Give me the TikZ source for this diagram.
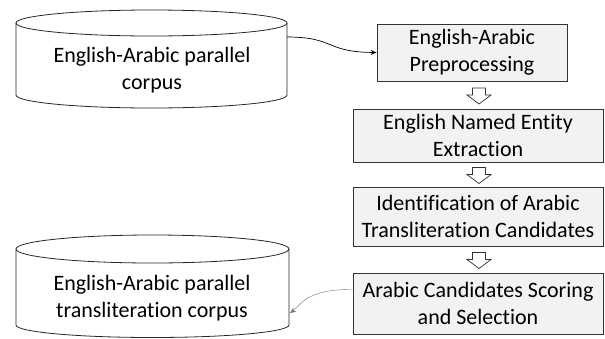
\documentclass[tikz,border=0pt]{standalone}
\usepackage{fontspec}
\setmainfont{Carlito}[Ligatures=NoCommon]
\usetikzlibrary{arrows.meta,calc}

\begin{document}
\begin{tikzpicture}[
    x=1pt, y=1pt,
  stagebox/.style={rectangle, draw=black!80, fill=black!5, line width=.8pt, align=center, inner sep=2pt,
    font=\fontsize{22}{27}\selectfont},
  corpustext/.style={align=center, font=\fontsize{22}{27}\selectfont},
  drum/.style={draw=black!85, line width=.8pt},
  flowarrow/.style={-{Stealth[length=6pt,width=5pt]}, line width=.7pt},
  thinarrow/.style={-{Stealth[length=6pt,width=5pt]}, draw=black!55, line width=.4pt}
]
\useasboundingbox (0,0) rectangle (605,-338);

% Corpora (cylinders)
\draw[drum] (151.5,-23) ellipse [x radius=135.5, y radius=13];
\draw[drum] (16,-23) -- (16,-95) arc [start angle=180, end angle=360, x radius=135.5, y radius=13] -- (287,-23);
\node[corpustext] (src) at (152,-70) {English-Arabic parallel\\corpus};
\coordinate (srcout) at (287,-37);

\draw[drum] (152.5,-249) ellipse [x radius=136.5, y radius=14];
\draw[drum] (16,-249) -- (16,-325) arc [start angle=180, end angle=360, x radius=136.5, y radius=12.5] -- (289,-249);
\node[corpustext] (dst) at (152,-298) {English-Arabic parallel\\transliteration corpus};
\coordinate (dstin) at (290,-313);

% Processing stages
\node[stagebox, minimum width=190pt, minimum height=57pt] (prep) at (472,-52.5) {English-Arabic\\Preprocessing};
\node[stagebox, minimum width=250pt, minimum height=53pt] (ner) at (478,-135.5) {English Named Entity\\Extraction};
\node[stagebox, minimum width=250pt, minimum height=59pt] (ident) at (478,-216.5) {Identification of Arabic\\Transliteration Candidates};
\node[stagebox, minimum width=250pt, minimum height=61pt] (score) at (478,-303.5) {Arabic Candidates Scoring\\and Selection};

% Hollow arrows between stages
\foreach \a/\b in {prep/ner, ner/ident, ident/score}
  \draw[black!80, line width=.7pt, fill=white, shift={($(\a.south -| \b.north)!0.5!(\b.north)+(1,-1)$)}]
    (-6.5,8) -- (6.5,8) -- (6.5,1) -- (12,1) -- (0,-8) -- (-12,1) -- (-6.5,1) -- cycle;

% Connectors
\draw[flowarrow] (srcout) .. controls (335,-37) and (325,-52) .. (prep.west);
\draw[thinarrow] ([yshift=14pt]score.west) .. controls (305,-289) and (300,-306) .. (dstin);

\end{tikzpicture}
\end{document}
